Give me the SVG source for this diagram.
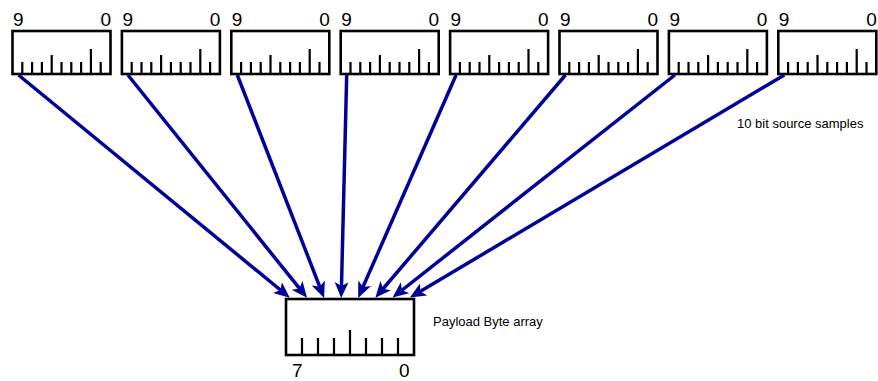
<svg xmlns="http://www.w3.org/2000/svg" width="878" height="381" viewBox="0 0 878 381">
<style>
.box{fill:#fff;stroke:#000;stroke-width:2.6}
.tick{stroke:#000;stroke-width:2.2}
.dig{font-family:"Liberation Sans",Arial,sans-serif;font-size:19px;fill:#000}
.lbl{font-family:"Liberation Sans",Arial,sans-serif;font-size:13px;fill:#000}
.arr{stroke:#000099;stroke-width:3.5;fill:none;marker-end:url(#ah)}
</style>
<defs>
<marker id="ah" markerUnits="userSpaceOnUse" viewBox="0 0 16 14" refX="11" refY="7" markerWidth="16" markerHeight="14" orient="auto">
<path d="M0,0 L16,7 L0,14 L4,7 Z" fill="#000099"/>
</marker>
<g id="scale10">
<rect class="box" x="0" y="31" width="98" height="43"/>
<path class="tick" d="M9.8,74V62M19.6,74V62M29.4,74V62M39.2,74V55M49,74V62M58.8,74V62M68.6,74V62M78.4,74V49M88.2,74V62"/>
</g>
</defs>
<g id="sample1" transform="translate(12.5,0)"><use href="#scale10"/><text class="dig" x="0.5" y="26">9</text><text class="dig" x="98.5" y="26" text-anchor="end">0</text></g>
<g id="sample2" transform="translate(121.9,0)"><use href="#scale10"/><text class="dig" x="0.5" y="26">9</text><text class="dig" x="98.5" y="26" text-anchor="end">0</text></g>
<g id="sample3" transform="translate(231.3,0)"><use href="#scale10"/><text class="dig" x="0.5" y="26">9</text><text class="dig" x="98.5" y="26" text-anchor="end">0</text></g>
<g id="sample4" transform="translate(340.7,0)"><use href="#scale10"/><text class="dig" x="0.5" y="26">9</text><text class="dig" x="98.5" y="26" text-anchor="end">0</text></g>
<g id="sample5" transform="translate(450.1,0)"><use href="#scale10"/><text class="dig" x="0.5" y="26">9</text><text class="dig" x="98.5" y="26" text-anchor="end">0</text></g>
<g id="sample6" transform="translate(559.5,0)"><use href="#scale10"/><text class="dig" x="0.5" y="26">9</text><text class="dig" x="98.5" y="26" text-anchor="end">0</text></g>
<g id="sample7" transform="translate(668.9,0)"><use href="#scale10"/><text class="dig" x="0.5" y="26">9</text><text class="dig" x="98.5" y="26" text-anchor="end">0</text></g>
<g id="sample8" transform="translate(778.3,0)"><use href="#scale10"/><text class="dig" x="0.5" y="26">9</text><text class="dig" x="98.5" y="26" text-anchor="end">0</text></g>
<g id="samples-label"><text class="lbl" x="737" y="128">10 bit source samples</text></g>
<g id="payload">
<rect class="box" x="286" y="299" width="128" height="56"/>
<path class="tick" d="M302,355V338M318,355V338M334,355V338M350,355V330M366,355V338M382,355V338M398,355V338"/>
<text class="dig" x="292" y="377">7</text>
<text class="dig" x="409.5" y="377" text-anchor="end">0</text>
<text class="lbl" x="433" y="326">Payload Byte array</text>
</g>
<g id="connectors">
<line class="arr" x1="18.5" y1="75" x2="285.9" y2="294.5"/>
<line class="arr" x1="127.9" y1="75" x2="303.9" y2="293.9"/>
<line class="arr" x1="237.3" y1="75" x2="322.3" y2="293.3"/>
<line class="arr" x1="346.7" y1="75" x2="341.3" y2="293"/>
<line class="arr" x1="456.1" y1="75" x2="360.2" y2="293.3"/>
<line class="arr" x1="565.5" y1="75" x2="378.6" y2="294"/>
<line class="arr" x1="674.9" y1="75" x2="396.5" y2="294.5"/>
<line class="arr" x1="784.3" y1="75" x2="414.2" y2="295"/>
</g>
</svg>
